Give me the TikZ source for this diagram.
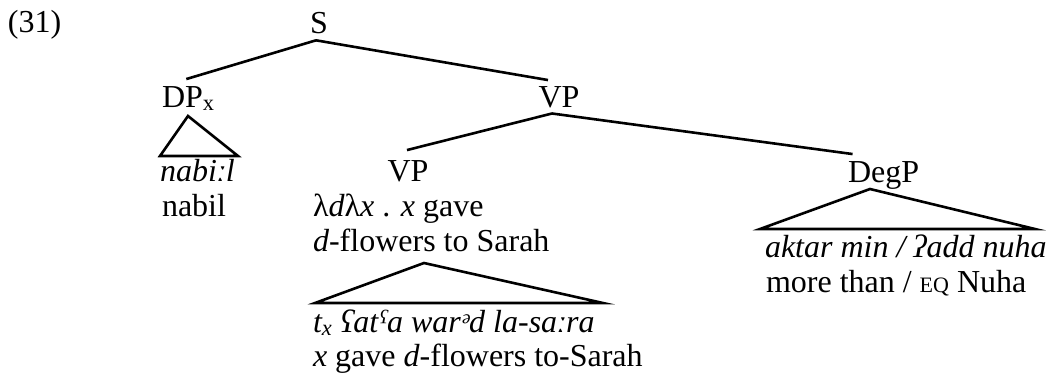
\documentclass[tikz,border=0pt]{standalone}
\usepackage{fontspec}
\setmainfont{Liberation Serif}
\begin{document}
\begin{tikzpicture}[x=1pt,y=-1pt,
  lbl/.style={inner sep=0pt, outer sep=0pt, font=\fontsize{32}{35}\selectfont},
  cat/.style={lbl, anchor=base},
  leaf/.style={lbl, anchor=base west},
  branch/.style={line width=2.6pt},
  roof/.style={line width=2.6pt, line join=miter},
]
\useasboundingbox (0,0) rectangle (1051,376);

% example number
\node[leaf] (num) at (8,32) {(31)};

% category labels
\node[cat] (S) at (319,33) {S};
\node[leaf] (DP) at (162,107) {DP\textsubscript{x}};
\node[cat] (VPa) at (559,107) {VP};
\node[cat] (VPb) at (408,181) {VP};
\node[leaf] (DegP) at (848,182) {DegP};

% terminal strings
\node[leaf] (nabiIt) at (160,181) {\itshape nabiːl};
\node[leaf] (nabil) at (162,216) {nabil};
\node[leaf] (lam) at (313,216) {λ\textit{d}λ\textit{x} . \textit{x} gave};
\node[leaf] (dfl) at (313,251) {\textit{d}-flowers to Sarah};
\node[leaf] (tx) at (313,332) {\itshape t\textsubscript{x} ʕatˁa warᵊd la-saːra};
\node[leaf] (xgave) at (313,366) {\textit{x} gave \textit{d}-flowers to-Sarah};
\node[leaf] (aktar) at (765,257) {\itshape aktar min / ʔadd nuha};
\node[leaf] (more) at (766,292) {more than / {\fontsize{22}{22}\selectfont EQ} Nuha};

% apexes of the roofs
\coordinate (dpApex) at (188,116);
\coordinate (vpApex) at (424,263);
\coordinate (degApex) at (870,189);

% branches
\draw[branch] ([shift={(-3,7)}]S.south) -- ([shift={(-2,-7)}]DP.north);
\draw[branch] ([shift={(-3,7)}]S.south) -- ([shift={(-11,-6)}]VPa.north);
\draw[branch] ([shift={(-7,6)}]VPa.south) -- ([shift={(-1,-10)}]VPb.north);
\draw[branch] ([shift={(-7,6)}]VPa.south) -- ([shift={(-31,-7)}]DegP.north);

% roofs over unanalysed constituents
\draw[roof] (dpApex) -- (160,156) -- (238,156) -- cycle;
\draw[roof] (vpApex) -- (315,303) -- (603,303) -- cycle;
\draw[roof] (degApex) -- (760,229) -- (1035,229) -- cycle;
\end{tikzpicture}
\end{document}
